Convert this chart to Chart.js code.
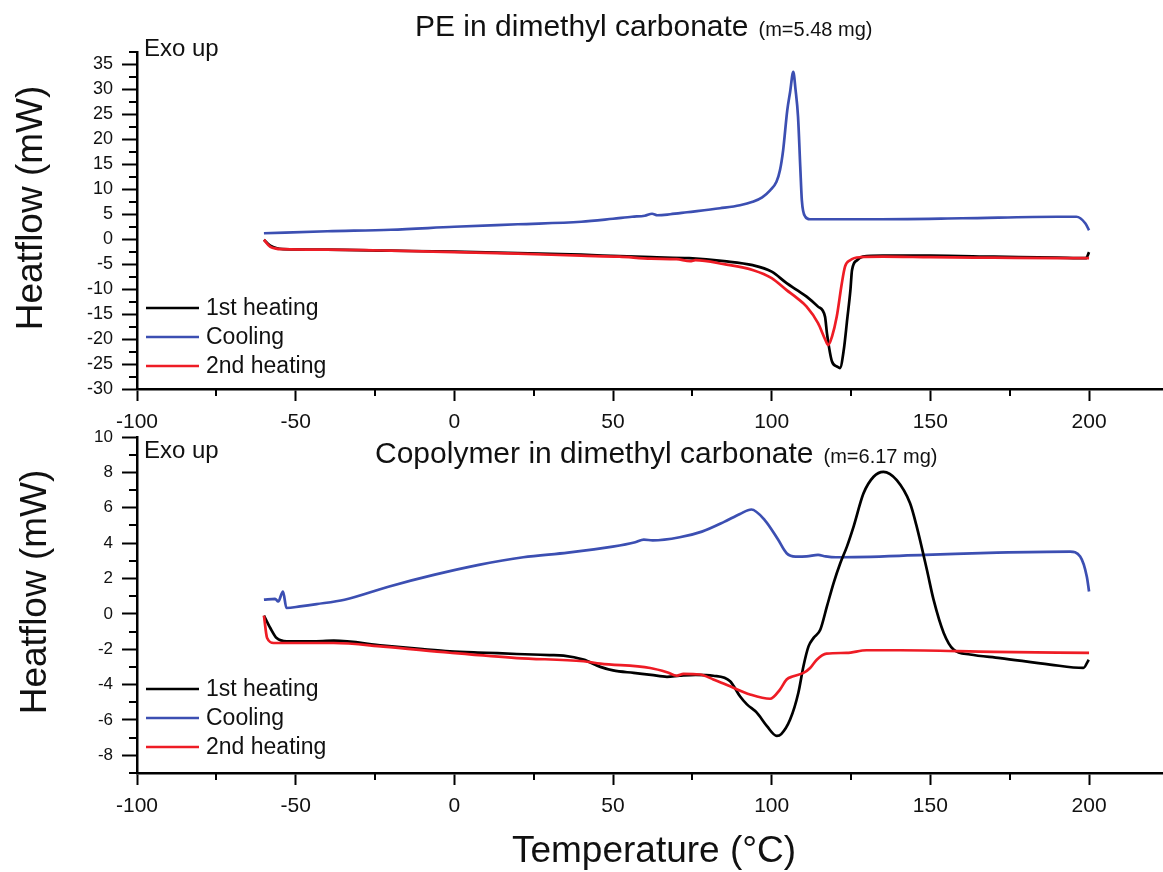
<!DOCTYPE html>
<html>
<head>
<meta charset="utf-8">
<script src="https://cdn.jsdelivr.net/npm/chart.js@4.4.1/dist/chart.umd.min.js"></script>
<style>
  body { margin: 0; background: #fff; }
  #wrap { position: relative; width: 1163px; height: 872px; }
  canvas { position: absolute; left: 0; }
</style>
</head>
<body>
<div id="wrap">
  <canvas id="pe" width="1163" height="440" style="top:0"></canvas>
  <canvas id="copo" width="1163" height="472" style="top:400px"></canvas>
</div>
<script>
// series labels
const seriesNames = ["1st heating", "Cooling", "2nd heating"];

// PE in dimethyl carbonate
const peHeat1T = [-60, -58, -54, -40, -20, 0, 20, 40, 52, 62, 74, 85, 94, 100, 104.7, 108, 111, 114.6, 116.8, 117.4, 119, 120.6, 121.5, 122.7, 123.8, 124.8, 125.3, 126.9, 128.7, 135, 150, 170, 190, 199, 200];
const peHeat1HF = [-0.1, -1.3, -2.0, -2.1, -2.3, -2.5, -2.8, -3.1, -3.4, -3.6, -3.8, -4.4, -5.2, -6.5, -8.8, -10.2, -11.5, -13.5, -15.5, -18.8, -24.5, -25.5, -25.8, -22.2, -16, -10.2, -6.2, -4.2, -3.5, -3.3, -3.3, -3.5, -3.7, -3.8, -2.6];

const peCoolT = [-60, -40, -20, 0, 20, 40, 50, 56, 60, 62.3, 64, 68, 73.3, 83.7, 90, 94, 97, 99.5, 101.5, 102.6, 103.6, 104.9, 105.8, 106.8, 107.5, 108.3, 109, 109.5, 110.6, 112, 130, 160, 190, 196, 198.8, 200];
const peCoolHF = [1.2, 1.6, 1.9, 2.5, 3.0, 3.5, 4.1, 4.5, 4.7, 5.1, 4.8, 5.0, 5.4, 6.2, 6.8, 7.5, 8.4, 9.8, 11.5, 13.8, 17.8, 25.8, 29.5, 33.5, 30, 24.5, 14.5, 7.8, 4.5, 4.0, 4.0, 4.2, 4.5, 4.5, 3.2, 1.8];

const peHeat2T = [-60, -58, -54, -40, -20, 0, 20, 40, 52, 62, 70, 74.3, 76, 85, 94.2, 100, 104.7, 108, 111, 114.6, 116.8, 117.8, 119, 120.5, 122.1, 123.1, 124.7, 127.9, 135, 150, 170, 190, 200];
const peHeat2HF = [-0.1, -1.5, -2.0, -2.1, -2.3, -2.6, -2.9, -3.3, -3.5, -3.9, -4.0, -4.4, -4.2, -5.0, -6.2, -7.8, -10.2, -11.8, -13.5, -16.8, -20.0, -21.2, -19.5, -15.5, -8.8, -5.5, -4.2, -3.6, -3.5, -3.6, -3.7, -3.8, -3.8];

// Copolymer in dimethyl carbonate
const coHeat1T = [-60, -58, -56, -52.8, -45, -38, -22.4, -10, -1.4, 10, 19.7, 30, 34.4, 40.7, 46, 50, 56.5, 62, 67, 71, 76, 81.6, 86.9, 90, 92.2, 95.3, 98.5, 101.6, 103, 105.8, 108.4, 110, 111.6, 113.2, 115.3, 117.4, 119.5, 121.6, 123.7, 125.8, 128.9, 132.1, 135.2, 139.4, 143.6, 145.7, 148.9, 151, 154.2, 157.3, 162.5, 172, 187.7, 198.2, 199.9];
const coHeat1HF = [-0.1, -0.8, -1.37, -1.55, -1.55, -1.52, -1.8, -2.0, -2.12, -2.2, -2.27, -2.33, -2.36, -2.59, -3.0, -3.2, -3.34, -3.45, -3.56, -3.5, -3.45, -3.5, -3.81, -4.66, -5.12, -5.59, -6.35, -6.9, -6.8, -5.98, -4.46, -2.96, -1.84, -1.36, -0.9, 0.42, 1.74, 2.86, 3.8, 4.93, 6.8, 7.75, 8.03, 7.56, 6.25, 4.93, 2.49, 0.8, -1.08, -2.02, -2.3, -2.5, -2.87, -3.06, -2.59];

const coCoolT = [-60, -56.5, -55.5, -54, -52.9, -48.6, -43.4, -34.6, -20.5, -6.5, 7.7, 21.7, 35.8, 49.9, 57, 59.7, 62.5, 71, 78, 85, 90, 93.6, 97.8, 102, 104.7, 107.5, 111, 114.6, 117, 120.2, 148.3, 171, 194, 197.2, 199.3, 200];
const coCoolHF = [0.8, 0.85, 0.7, 1.26, 0.33, 0.42, 0.55, 0.8, 1.55, 2.2, 2.77, 3.2, 3.46, 3.8, 4.05, 4.2, 4.15, 4.33, 4.65, 5.2, 5.65, 5.9, 5.3, 4.2, 3.43, 3.24, 3.25, 3.33, 3.25, 3.2, 3.33, 3.46, 3.52, 3.24, 2.1, 1.26];

const coHeat2T = [-60, -59, -56.9, -48.6, -38, -22.4, -1.4, 19.7, 40.7, 46, 61.7, 67, 70.1, 72.2, 77.4, 81.6, 86.9, 93.2, 99.5, 102.6, 104.7, 106.8, 110, 112.1, 114.2, 117.3, 123.6, 129.9, 140.5, 170, 200];
const coHeat2HF = [-0.1, -1.37, -1.65, -1.65, -1.65, -1.85, -2.2, -2.5, -2.68, -2.81, -3.06, -3.3, -3.5, -3.4, -3.43, -3.71, -4.1, -4.56, -4.8, -4.28, -3.71, -3.53, -3.34, -3.06, -2.59, -2.25, -2.21, -2.06, -2.06, -2.15, -2.21];

const colors = ["#000000", "#3c4fb2", "#ee1c25"];
const FONT = '"Liberation Sans", Arial, sans-serif';
Chart.defaults.font.family = FONT;
Chart.defaults.color = "#111";

function pts(xs, ys) {
  return xs.map((x, i) => ({ x: x, y: ys[i] }));
}

// minor ticks (shorter) drawn on the library scales
const minorTicks = {
  id: "minorTicks",
  afterDraw(chart, args, o) {
    const { ctx, chartArea: a, scales: { x, y } } = chart;
    ctx.save();
    ctx.strokeStyle = "#000";
    ctx.lineWidth = 2;
    ctx.beginPath();
    for (let v = x.min; v <= x.max + 1e-6; v += o.xMinor) {
      if (Math.abs(v % o.xMajor) < 1e-6) continue;
      const px = Math.round(x.getPixelForValue(v));
      ctx.moveTo(px, a.bottom);
      ctx.lineTo(px, a.bottom + 7);
    }
    for (let v = y.min; v <= y.max + 1e-6; v += o.yMinor) {
      const r = Math.abs(v % o.yMajor);
      if (r < 1e-6 || Math.abs(r - o.yMajor) < 1e-6) continue;
      const py = Math.round(y.getPixelForValue(v));
      ctx.moveTo(a.left, py);
      ctx.lineTo(a.left - 8, py);
    }
    ctx.stroke();
    ctx.restore();
  }
};

// titles, "Exo up", legend, axis titles
const texts = {
  id: "texts",
  afterDraw(chart, args, o) {
    const { ctx, chartArea: a } = chart;
    ctx.save();
    ctx.fillStyle = "#111";
    ctx.textBaseline = "alphabetic";
    ctx.textAlign = "left";
    ctx.font = "30px " + FONT;
    ctx.fillText(o.title, o.titleX, o.titleY);
    const w = ctx.measureText(o.title).width;
    ctx.font = "20px " + FONT;
    ctx.fillText(o.sub, o.titleX + w + 10, o.titleY);

    ctx.font = "24px " + FONT;
    ctx.fillText("Exo up", a.left + 7, o.exoY);

    // legend
    chart.data.datasets.forEach((ds, i) => {
      const row = o.legendOrder.indexOf(ds.label);
      const yy = a.bottom - o.legendFromBottom + row * 29;
      ctx.strokeStyle = ds.borderColor;
      ctx.lineWidth = 2.5;
      ctx.beginPath();
      ctx.moveTo(a.left + 9, yy);
      ctx.lineTo(a.left + 62, yy);
      ctx.stroke();
      ctx.textBaseline = "middle";
      ctx.font = "23px " + FONT;
      ctx.fillText(ds.label, a.left + 69, yy + 1);
    });

    // y title
    ctx.save();
    ctx.translate(o.yTitleX, o.yTitleY);
    ctx.rotate(-Math.PI / 2);
    ctx.textAlign = "center";
    ctx.textBaseline = "middle";
    ctx.font = "37px " + FONT;
    ctx.fillText("Heatflow (mW)", 0, 0);
    ctx.restore();

    if (o.xTitle) {
      ctx.textAlign = "center";
      ctx.textBaseline = "middle";
      ctx.font = "37px " + FONT;
      ctx.fillText(o.xTitle, o.xTitleX, o.xTitleY);
    }
    ctx.restore();
  }
};

function makeChart(id, sets, yMin, yMax, yMajor, yMinor, padTop, xHeight, yFont, textOpts) {
  return new Chart(document.getElementById(id), {
    type: "line",
    data: {
      datasets: sets.map(s => ({
        label: s.label,
        data: s.data,
        borderColor: s.color,
        borderWidth: 2.7,
        pointRadius: 0,
        cubicInterpolationMode: "monotone",
        fill: false
      }))
    },
    options: {
      responsive: false,
      animation: false,
      layout: { autoPadding: false, padding: { top: padTop, left: 0, right: 0, bottom: 0 } },
      scales: {
        x: {
          type: "linear",
          min: -100,
          max: 223.3,
          afterFit: s => { s.height = xHeight; },
          ticks: { stepSize: 50, includeBounds: false, maxRotation: 0, autoSkip: false, padding: 9, font: { size: 21 }, color: "#111", callback: v => String(v) },
          grid: { drawOnChartArea: false, drawTicks: true, tickLength: 12, tickWidth: 2, tickColor: "#000" },
          border: { display: true, color: "#000", width: 2.5 }
        },
        y: {
          type: "linear",
          min: yMin,
          max: yMax,
          afterFit: s => { s.width = 137; },
          ticks: { stepSize: yMajor, includeBounds: false, autoSkip: false, maxTicksLimit: 100, padding: 9, font: { size: yFont }, color: "#111", callback: v => String(v) },
          grid: { drawOnChartArea: false, drawTicks: true, tickLength: 15, tickWidth: 2, tickColor: "#000" },
          border: { display: true, color: "#000", width: 2.5 }
        }
      },
      plugins: {
        legend: { display: false },
        tooltip: { enabled: false },
        title: { display: false },
        minorTicks: { xMajor: 50, xMinor: 25, yMajor: yMajor, yMinor: yMinor },
        texts: textOpts
      }
    },
    plugins: [minorTicks, texts]
  });
}

makeChart("pe", [
  { label: seriesNames[2], data: pts(peHeat2T, peHeat2HF), color: colors[2] },
  { label: seriesNames[0], data: pts(peHeat1T, peHeat1HF), color: colors[0] },
  { label: seriesNames[1], data: pts(peCoolT, peCoolHF), color: colors[1] }
], -30, 37.5, 5, 2.5, 52, 51, 18, {
  title: "PE in dimethyl carbonate", sub: "(m=5.48 mg)", titleX: 415, titleY: 36,
  exoY: 56, legendOrder: seriesNames, legendFromBottom: 81,
  yTitleX: 32, yTitleY: 208
});

makeChart("copo", [
  { label: seriesNames[2], data: pts(coHeat2T, coHeat2HF), color: colors[2] },
  { label: seriesNames[0], data: pts(coHeat1T, coHeat1HF), color: colors[0] },
  { label: seriesNames[1], data: pts(coCoolT, coCoolHF), color: colors[1] }
], -9, 10, 2, 1, 37, 99, 17, {
  title: "Copolymer in dimethyl carbonate", sub: "(m=6.17 mg)", titleX: 375, titleY: 63,
  exoY: 58, legendOrder: seriesNames, legendFromBottom: 84,
  yTitleX: 36, yTitleY: 192,
  xTitle: "Temperature (\u00B0C)", xTitleX: 654, xTitleY: 452
});
</script>
</body>
</html>
